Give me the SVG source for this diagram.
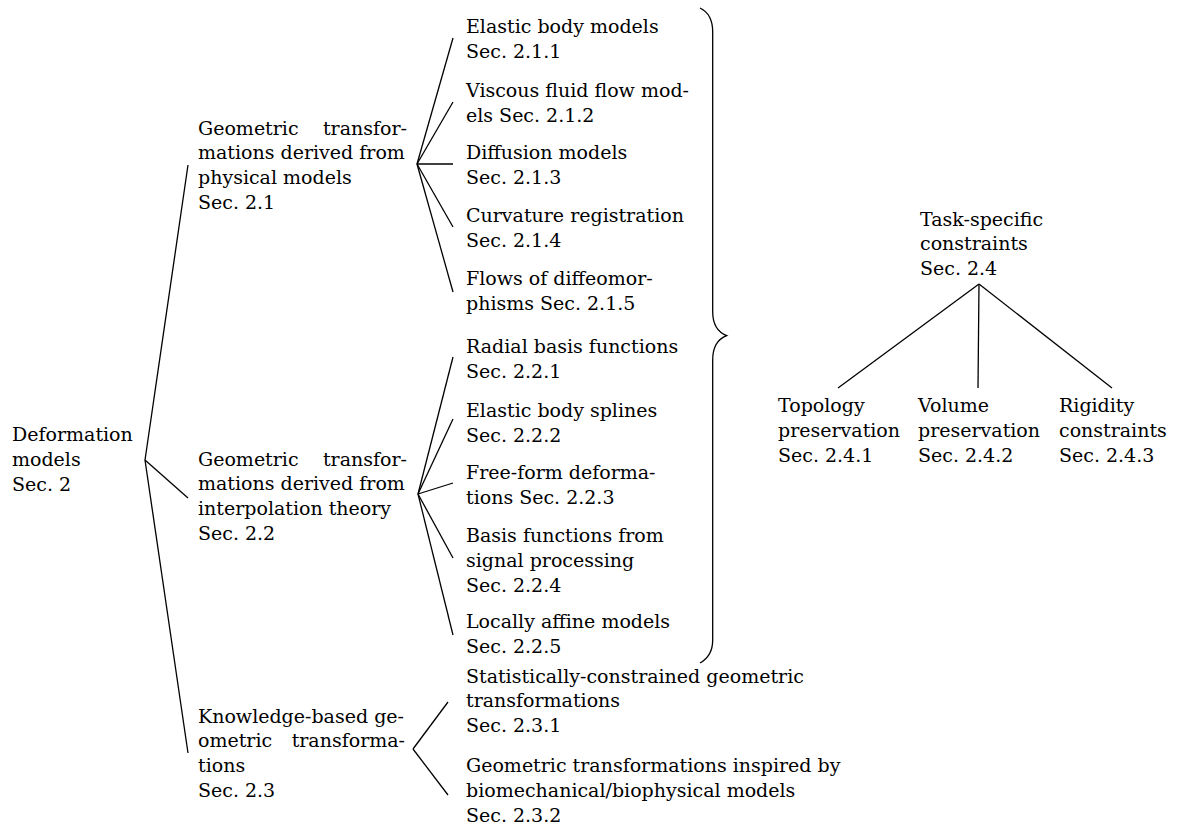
<svg xmlns="http://www.w3.org/2000/svg" width="1181" height="834" viewBox="0 0 1181 834">
<style>
text{font-family:"DejaVu Serif","Liberation Serif",serif;font-size:19px;fill:#000}
.e{text-anchor:end}
.c line,.c path{stroke:#000;stroke-width:1.3;fill:none}
</style>
<rect width="1181" height="834" fill="#fff"/>
<g class="c" id="connectors">
<line x1="145" y1="460" x2="188" y2="165"/>
<line x1="145" y1="460" x2="188" y2="498"/>
<line x1="145" y1="460" x2="188" y2="753"/>
<line x1="417" y1="164" x2="453" y2="38"/>
<line x1="417" y1="164" x2="453" y2="102"/>
<line x1="417" y1="164" x2="453" y2="164"/>
<line x1="417" y1="164" x2="453" y2="227"/>
<line x1="417" y1="164" x2="453" y2="292"/>
<line x1="418" y1="494" x2="453" y2="357"/>
<line x1="418" y1="494" x2="453" y2="419"/>
<line x1="418" y1="494" x2="453" y2="483"/>
<line x1="418" y1="494" x2="453" y2="558"/>
<line x1="418" y1="494" x2="453" y2="635"/>
<line x1="413" y1="749" x2="448" y2="702"/>
<line x1="413" y1="749" x2="448" y2="795"/>
<line x1="979" y1="284" x2="838" y2="388"/>
<line x1="979" y1="284" x2="978" y2="388"/>
<line x1="979" y1="284" x2="1112" y2="388"/>
<path d="M700,8 Q712.7,14 712.7,32 L712.7,312 Q712.7,330 726.7,335.7 Q712.7,341 712.7,360 L712.7,640 Q712.7,656 700,663"/>
</g>
<g id="n-root"><text x="12" y="441">Deformation</text><text x="12" y="466">models</text><text x="12" y="491">Sec. 2</text></g>
<g id="n-2-1"><text x="198" y="135">Geometric</text><text class="e" x="407" y="135">transfor-</text><text x="198" y="159">mations derived from</text><text x="198" y="184">physical models</text><text x="198" y="209">Sec. 2.1</text></g>
<g id="n-2-2"><text x="198" y="466">Geometric</text><text class="e" x="407" y="466">transfor-</text><text x="198" y="490">mations derived from</text><text x="198" y="515">interpolation theory</text><text x="198" y="540">Sec. 2.2</text></g>
<g id="n-2-3"><text x="198" y="723">Knowledge-based ge-</text><text x="198" y="747">ometric</text><text class="e" x="405" y="747">transforma-</text><text x="198" y="772">tions</text><text x="198" y="797">Sec. 2.3</text></g>
<g id="n-2-1-1"><text x="466" y="33">Elastic body models</text><text x="466" y="58">Sec. 2.1.1</text></g>
<g id="n-2-1-2"><text x="466" y="97">Viscous fluid flow mod-</text><text x="466" y="122">els Sec. 2.1.2</text></g>
<g id="n-2-1-3"><text x="466" y="159">Diffusion models</text><text x="466" y="184">Sec. 2.1.3</text></g>
<g id="n-2-1-4"><text x="466" y="222">Curvature registration</text><text x="466" y="247">Sec. 2.1.4</text></g>
<g id="n-2-1-5"><text x="466" y="285">Flows of diffeomor-</text><text x="466" y="310">phisms Sec. 2.1.5</text></g>
<g id="n-2-2-1"><text x="466" y="353">Radial basis functions</text><text x="466" y="378">Sec. 2.2.1</text></g>
<g id="n-2-2-2"><text x="466" y="417">Elastic body splines</text><text x="466" y="442">Sec. 2.2.2</text></g>
<g id="n-2-2-3"><text x="466" y="479">Free-form deforma-</text><text x="466" y="504">tions Sec. 2.2.3</text></g>
<g id="n-2-2-4"><text x="466" y="542">Basis functions from</text><text x="466" y="567">signal processing</text><text x="466" y="592">Sec. 2.2.4</text></g>
<g id="n-2-2-5"><text x="466" y="628">Locally affine models</text><text x="466" y="653">Sec. 2.2.5</text></g>
<g id="n-2-3-1"><text x="466" y="683">Statistically-constrained geometric</text><text x="466" y="707">transformations</text><text x="466" y="732">Sec. 2.3.1</text></g>
<g id="n-2-3-2"><text x="466" y="772">Geometric transformations inspired by</text><text x="466" y="797">biomechanical/biophysical models</text><text x="466" y="822">Sec. 2.3.2</text></g>
<g id="n-2-4"><text x="920" y="226">Task-specific</text><text x="920" y="250">constraints</text><text x="920" y="275">Sec. 2.4</text></g>
<g id="n-2-4-1"><text x="778" y="412">Topology</text><text x="778" y="437">preservation</text><text x="778" y="462">Sec. 2.4.1</text></g>
<g id="n-2-4-2"><text x="918" y="412">Volume</text><text x="918" y="437">preservation</text><text x="918" y="462">Sec. 2.4.2</text></g>
<g id="n-2-4-3"><text x="1059" y="412">Rigidity</text><text x="1059" y="437">constraints</text><text x="1059" y="462">Sec. 2.4.3</text></g>
</svg>
